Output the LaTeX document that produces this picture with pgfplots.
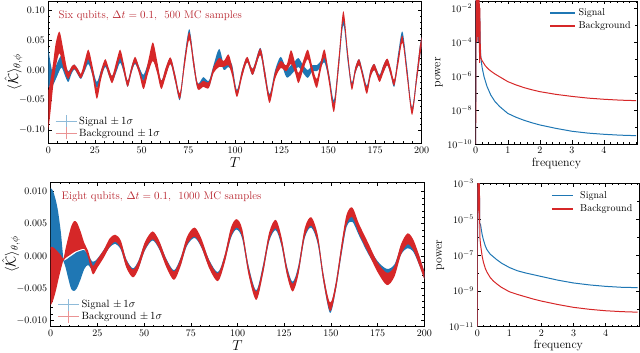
\documentclass[border=0pt]{standalone}
\usepackage{pgfplots}
\pgfplotsset{compat=1.18}
\usepackage{pgfplotstable}
\usepgfplotslibrary{fillbetween}

\definecolor{sig}{HTML}{1F77B4}
\definecolor{bkg}{HTML}{D62728}
\definecolor{siglt}{HTML}{8FBBD9}
\definecolor{bkglt}{HTML}{EA9394}
\definecolor{note}{HTML}{B8262F}

% six qubits: T, lower, upper (mean -/+ 1 sigma)
\pgfplotstableread{
T lo hi
0 -0.030 0.037
1 -0.025 0.015
2.5 -0.025 -0.005
4.5 -0.012 0.010
7 0.004 0.024
9 -0.010 0.008
10.7 -0.020 -0.002
12.5 -0.006 0.005
14 0.001 0.009
16 -0.009 0.000
17.5 -0.015 -0.007
19.5 -0.002 0.008
21.5 0.010 0.022
23.8 -0.010 0.002
26 -0.030 -0.020
28.3 -0.012 0.000
30.5 0.005 0.014
32.3 -0.008 0.002
34.2 -0.020 -0.010
36.5 -0.003 0.008
38.5 0.012 0.024
40.5 -0.005 0.006
42.5 -0.028 -0.018
44.5 -0.005 0.005
46.5 0.010 0.020
48.8 -0.005 0.004
51 -0.018 -0.008
53.5 -0.002 0.012
56 0.018 0.032
58.3 -0.003 0.010
60.5 -0.028 -0.018
63 -0.008 0.004
65.5 0.010 0.020
68 -0.020 -0.008
70.5 -0.050 -0.040
73 0.008 0.022
75.5 0.056 0.068
77.8 0.005 0.020
80 -0.030 -0.022
83 -0.020 -0.012
86 -0.028 -0.018
88.5 -0.003 0.008
91.5 0.018 0.035
94 0.000 0.010
96.5 0.005 0.015
98.5 -0.005 0.008
101 -0.042 -0.033
103.8 -0.010 0.000
106.5 0.013 0.021
109.5 -0.008 0.002
113.5 0.025 0.037
116 -0.015 0.000
118.5 -0.050 -0.040
121.5 -0.010 0.000
124.5 0.010 0.022
127.5 -0.012 0.002
130 -0.008 0.008
132.2 0.000 0.015
134 0.005 0.020
136.5 -0.005 0.008
139 -0.013 0.000
141.5 -0.002 0.008
143.8 -0.002 0.008
146 0.005 0.015
148 0.012 0.025
150.5 -0.020 -0.008
153 -0.062 -0.050
155.5 0.000 0.018
158 0.075 0.088
160.3 0.015 0.030
162.5 -0.030 -0.020
164.5 -0.005 0.005
166.5 0.008 0.018
168.5 -0.012 -0.003
170.6 -0.036 -0.026
172.6 -0.010 0.000
174.5 0.000 0.010
176 -0.008 0.000
177.5 -0.016 -0.008
179.5 -0.003 0.008
181.6 0.008 0.018
183.5 -0.010 0.000
185.3 -0.028 -0.018
187.5 0.015 0.030
189.7 0.052 0.064
192.2 -0.010 0.005
194.8 -0.072 -0.062
197.3 -0.020 -0.005
199 0.020 0.040
200 0.040 0.055
}\topsig

\pgfplotstableread{
T lo hi
0 -0.100 -0.035
1 -0.075 -0.020
2.5 -0.030 0.010
4 0.005 0.045
6 0.028 0.064
8 0.005 0.035
10.5 -0.015 -0.003
12.5 -0.003 0.006
14 0.002 0.009
16 -0.008 0.001
17.5 -0.014 -0.006
19.5 0.000 0.015
21.5 0.018 0.034
23.8 -0.012 0.005
26 -0.048 -0.030
28.3 -0.015 0.000
30.5 0.008 0.018
32.3 -0.008 0.004
34.2 -0.022 -0.010
36.5 0.000 0.015
38.5 0.020 0.034
40.5 -0.005 0.010
42.5 -0.028 -0.018
44.5 -0.005 0.005
46.5 0.012 0.022
48.8 -0.008 0.003
51 -0.032 -0.018
53.5 -0.005 0.015
56 0.015 0.046
58.3 -0.005 0.015
60.5 -0.032 -0.018
63 -0.010 0.005
65.5 0.010 0.021
68 -0.020 -0.008
70.5 -0.048 -0.038
73 0.005 0.020
75.5 0.050 0.063
77.8 0.005 0.020
80 -0.032 -0.022
83 -0.028 -0.018
86 -0.030 -0.020
88.5 -0.005 0.005
91.5 0.005 0.020
94 0.005 0.015
96.5 0.008 0.026
98.5 -0.010 0.005
101 -0.045 -0.035
103.8 -0.012 0.000
106.5 0.013 0.022
109.5 -0.008 0.002
113.5 0.025 0.036
116 -0.015 0.000
118.5 -0.055 -0.042
121.5 -0.015 -0.003
124.5 0.003 0.015
127.5 -0.002 0.008
130 0.010 0.033
132.2 -0.005 0.012
134 -0.022 -0.005
136.5 0.000 0.015
139 0.018 0.034
141.5 -0.010 0.005
143.8 -0.030 -0.015
146 0.000 0.015
148 0.020 0.034
150.5 -0.025 -0.010
153 -0.070 -0.055
155.5 0.000 0.020
158 0.082 0.098
160.3 0.020 0.035
162.5 -0.033 -0.022
164.5 -0.005 0.005
166.5 0.008 0.018
168.5 -0.015 -0.005
170.6 -0.040 -0.028
172.6 -0.012 0.000
174.5 0.000 0.010
176 -0.010 0.000
177.5 -0.020 -0.010
179.5 -0.005 0.008
181.6 0.008 0.019
183.5 -0.010 0.002
185.3 -0.026 -0.016
187.5 0.010 0.025
189.7 0.045 0.057
192.2 -0.015 0.000
194.8 -0.075 -0.063
197.3 -0.020 -0.005
199 0.020 0.040
200 0.040 0.055
}\topbkg

% eight qubits
\pgfplotstableread{
T lo hi
0 0.0010 0.0105
1 0.0009 0.0102
2 0.0008 0.0094
3 0.0006 0.0083
4 0.0003 0.0068
5.5 -0.0002 0.0035
6.8 -0.0008 -0.0004
8 -0.0018 -0.0006
9.5 -0.0036 -0.0003
11 -0.0051 0.0000
12.5 -0.0054 0.0003
14 -0.0050 0.0006
16 -0.0036 0.0008
18 -0.0020 0.0009
20 -0.0014 0.0002
22.5 -0.0022 -0.0009
25 -0.0015 -0.0004
28.5 0.0000 0.0010
31.5 0.0013 0.0024
34.5 0.0019 0.0029
37.5 0.0010 0.0021
40.5 -0.0016 -0.0005
44 -0.0030 -0.0019
47 -0.0018 -0.0007
50.5 0.0009 0.0020
54.5 0.0024 0.0034
58 0.0011 0.0022
62 -0.0016 -0.0005
66 -0.0034 -0.0022
69.5 -0.0014 -0.0003
73 0.0016 0.0027
77 0.0028 0.0040
80.5 0.0014 0.0025
85 -0.0018 -0.0007
89.5 -0.0037 -0.0025
93 -0.0010 0.0000
96.5 0.0028 0.0040
99.5 0.0041 0.0053
102.5 0.0027 0.0038
106 -0.0028 -0.0016
110 -0.0066 -0.0053
113.5 -0.0028 -0.0016
117 0.0023 0.0034
120.5 0.0040 0.0052
123.5 0.0016 0.0027
126.5 -0.0028 -0.0016
129.5 -0.0052 -0.0040
132.5 -0.0028 -0.0016
136 0.0028 0.0040
139.5 0.0044 0.0056
143 0.0018 0.0030
146 -0.0040 -0.0028
149.5 -0.0088 -0.0075
152.5 -0.0055 -0.0043
156 0.0008 0.0022
158.5 0.0046 0.0060
161.5 0.0053 0.0068
165 0.0032 0.0046
170 0.0003 0.0016
175 -0.0020 -0.0008
180 -0.0036 -0.0020
184 -0.0027 -0.0013
187.5 0.0002 0.0014
191 0.0012 0.0026
194 0.0007 0.0020
197 -0.0012 0.0002
200 -0.0035 -0.0024
}\botsig

\pgfplotstableread{
T lo hi
0 -0.0076 0.0014
1 -0.0071 0.0014
2 -0.0062 0.0012
3 -0.0051 0.0009
4 -0.0038 0.0006
5.5 -0.0020 0.0001
6.8 -0.0007 -0.0004
8 -0.0003 0.0012
9.5 0.0000 0.0030
11 0.0003 0.0046
12.5 0.0006 0.0054
14 0.0008 0.0052
16 0.0010 0.0038
18 0.0011 0.0020
20 -0.0002 0.0008
22.5 -0.0028 -0.0015
25 -0.0018 -0.0005
28.5 -0.0002 0.0010
31.5 0.0014 0.0027
34.5 0.0022 0.0033
37.5 0.0012 0.0024
40.5 -0.0018 -0.0006
44 -0.0033 -0.0021
47 -0.0020 -0.0008
50.5 0.0010 0.0022
54.5 0.0026 0.0038
58 0.0012 0.0024
62 -0.0018 -0.0006
66 -0.0037 -0.0024
69.5 -0.0016 -0.0004
73 0.0018 0.0030
77 0.0030 0.0044
80.5 0.0015 0.0028
85 -0.0020 -0.0008
89.5 -0.0039 -0.0027
93 -0.0012 0.0000
96.5 0.0030 0.0044
99.5 0.0044 0.0057
102.5 0.0030 0.0042
106 -0.0030 -0.0018
110 -0.0068 -0.0055
113.5 -0.0030 -0.0018
117 0.0025 0.0037
120.5 0.0043 0.0056
123.5 0.0018 0.0030
126.5 -0.0030 -0.0018
129.5 -0.0055 -0.0043
132.5 -0.0030 -0.0018
136 0.0030 0.0043
139.5 0.0047 0.0060
143 0.0020 0.0032
146 -0.0040 -0.0028
149.5 -0.0085 -0.0072
152.5 -0.0055 -0.0043
156 0.0010 0.0025
158.5 0.0050 0.0065
161.5 0.0060 0.0075
165 0.0035 0.0050
170 0.0005 0.0020
175 -0.0025 -0.0010
180 -0.0045 -0.0026
184 -0.0032 -0.0016
187.5 0.0002 0.0018
191 0.0018 0.0035
194 0.0010 0.0026
197 -0.0012 0.0003
200 -0.0036 -0.0024
}\botbkg

\pgfplotsset{
  panel/.style={
    scale only axis,
    tick align=inside,
    major tick length=3.5pt,
    minor tick length=2pt,
    every tick/.style={black, line width=0.5pt},
    axis line style={line width=0.6pt},
    tick label style={font=\normalsize},
  },
  tpanel/.style={
    panel,
    xmin=0, xmax=200,
    xtick={0,25,...,200},
    minor x tick num=4,
    minor y tick num=4,
    scaled y ticks=false,
    xlabel={$T$},
    xlabel style={font=\Large, yshift=3pt},
    ylabel={$\langle\hat{\mathcal{K}}\rangle_{\theta,\phi}$},
    ylabel style={font=\Large, yshift=-10pt},
    legend style={draw=none, fill=none, font=\fontsize{10.5}{12}\selectfont,
      at={(0.01,0.01)}, anchor=south west, row sep=-1pt},
    legend cell align=left,
  },
  fpanel/.style={
    panel,
    xmin=0, xmax=5.04,
    xtick={0,1,2,3,4},
    minor xtick={0.2,0.4,...,5.0},
    xlabel={frequency},
    ylabel={power},
    xlabel style={font=\large, yshift=3pt},
    ylabel style={font=\large, yshift=-2pt},
  },
  errkey/.style={legend image code/.code={
      \draw[#1, line width=1pt] (0pt,0pt) -- (21pt,0pt);
      \draw[#1, line width=1pt] (10.5pt,-6pt) -- (10.5pt,6pt);}},
}

\begin{document}
\begin{tikzpicture}

% ---------- six qubits, time trace ----------
\begin{axis}[tpanel,
  at={(48.3pt,209.5pt)}, anchor=south west,
  width=373.4pt, height=142.5pt,
  ymin=-0.1225, ymax=0.115,
  ytick={-0.10,-0.05,0,0.05,0.10},
  yticklabel style={/pgf/number format/.cd, fixed, fixed zerofill, precision=2},
]
\addplot[draw=none, name path=sh, smooth, forget plot] table[x=T,y=hi]{\topsig};
\addplot[draw=none, name path=sl, smooth, forget plot] table[x=T,y=lo]{\topsig};
\addplot[sig, forget plot] fill between[of=sh and sl];
\addplot[draw=none, name path=bh, smooth, forget plot] table[x=T,y=hi]{\topbkg};
\addplot[draw=none, name path=bl, smooth, forget plot] table[x=T,y=lo]{\topbkg};
\addplot[bkg, forget plot] fill between[of=bh and bl];
\addlegendimage{errkey=siglt}
\addlegendentry{Signal $\pm\,1\sigma$}
\addlegendimage{errkey=bkglt}
\addlegendentry{Background $\pm\,1\sigma$}
\node[anchor=west, text=note, font=\fontsize{11}{13}\selectfont] at (axis description cs:0.018,0.9)
  {Six qubits, $\Delta t = 0.1$,\ \ 500 MC samples};
\end{axis}

% ---------- six qubits, spectrum ----------
\begin{axis}[ymode=log, fpanel,
  at={(475.7pt,209pt)}, anchor=south west,
  width=161.6pt, height=143pt,
  ymin=1e-10, ymax=0.0258,
  ytick={1e-10,1e-8,1e-6,1e-4,1e-2},
  minor ytick={1e-9,1e-7,1e-5,1e-3},
]
\addplot[sig, line width=1pt] coordinates {
(0.000,1e-10) (0.005,5e-2) (0.015,3e-4) (0.030,5e-2) (0.045,1e-3) (0.060,5e-2)
(0.075,1e-4) (0.090,5e-2) (0.105,1e-4) (0.120,1e-2) (0.140,1e-4) (0.160,1.15e-5)
(0.20,3.16e-6) (0.26,9.12e-7) (0.35,2.51e-7) (0.47,7.59e-8) (0.60,3.16e-8)
(0.75,1.58e-8) (1.00,6.31e-9) (1.25,3.80e-9) (1.50,2.51e-9) (1.75,1.78e-9)
(2.00,1.32e-9) (2.50,8.32e-10) (3.00,5.62e-10) (3.50,4.37e-10) (4.00,3.72e-10)
(4.50,3.31e-10) (5.00,3.09e-10)
};
\addplot[bkg, line width=1pt] coordinates {
(0.000,1e-10) (0.010,5e-2) (0.020,2e-4) (0.030,5e-2) (0.040,1e-4) (0.050,5e-2)
(0.060,1e-3) (0.070,5e-2) (0.080,2e-4) (0.090,5e-2) (0.100,1e-4) (0.110,3e-2)
(0.120,6e-6) (0.130,1e-2) (0.140,1e-4) (0.150,2e-5) (0.160,1.15e-5)
(0.20,7.94e-6) (0.25,5.62e-6) (0.30,3.98e-6) (0.40,2.51e-6) (0.50,1.78e-6)
(0.60,1.32e-6) (0.75,8.91e-7) (1.00,4.68e-7) (1.25,3.02e-7) (1.50,2.09e-7)
(1.75,1.55e-7) (2.00,1.20e-7) (2.50,8.32e-8) (3.00,6.31e-8) (3.50,5.01e-8)
(4.00,4.27e-8) (4.50,3.80e-8) (5.00,3.55e-8)
};
% legend
\draw[sig, line width=1.2pt] (axis description cs:0.46,0.916) -- (axis description cs:0.615,0.916);
\node[anchor=west, inner sep=0pt] at (axis description cs:0.635,0.916) {Signal};
\draw[bkg, line width=1.2pt] (axis description cs:0.46,0.825) -- (axis description cs:0.615,0.825);
\node[anchor=west, inner sep=0pt] at (axis description cs:0.635,0.825) {Background};
\end{axis}

% ---------- eight qubits, time trace ----------
\begin{axis}[tpanel,
  at={(50.7pt,26.3pt)}, anchor=south west,
  width=373.6pt, height=144.4pt,
  ymin=-0.01094, ymax=0.01141,
  ytick={-0.010,-0.005,0,0.005,0.010},
  yticklabel style={/pgf/number format/.cd, fixed, fixed zerofill, precision=3},
]
\addplot[draw=none, name path=sh, smooth, forget plot] table[x=T,y=hi]{\botsig};
\addplot[draw=none, name path=sl, smooth, forget plot] table[x=T,y=lo]{\botsig};
\addplot[sig, forget plot] fill between[of=sh and sl];
\addplot[draw=none, name path=bh, smooth, forget plot] table[x=T,y=hi]{\botbkg};
\addplot[draw=none, name path=bl, smooth, forget plot] table[x=T,y=lo]{\botbkg};
\addplot[bkg, forget plot] fill between[of=bh and bl];
\addlegendimage{errkey=siglt}
\addlegendentry{Signal $\pm\,1\sigma$}
\addlegendimage{errkey=bkglt}
\addlegendentry{Background $\pm\,1\sigma$}
\node[anchor=west, text=note, font=\fontsize{11}{13}\selectfont] at (axis description cs:0.02,0.9)
  {Eight qubits, $\Delta t = 0.1$,\ \ 1000 MC samples};
\end{axis}

% ---------- eight qubits, spectrum ----------
\begin{axis}[ymode=log, fpanel,
  at={(477.3pt,26.3pt)}, anchor=south west,
  width=162pt, height=143.4pt,
  xmax=5.05,
  ymin=1e-11, ymax=1e-3,
  ytick={1e-11,1e-9,1e-7,1e-5,1e-3},
  minor ytick={1e-10,1e-8,1e-6,1e-4},
]
\addplot[sig, line width=1pt] coordinates {
(0.000,1e-11) (0.010,6e-4) (0.020,1e-5) (0.030,1e-2) (0.045,1e-4) (0.060,1e-2)
(0.075,6e-6) (0.10,5.01e-6) (0.15,1.41e-6) (0.19,7.08e-7) (0.25,3.16e-7)
(0.30,2.00e-7) (0.40,1.12e-7) (0.50,7.94e-8) (0.60,5.62e-8) (0.75,3.55e-8)
(1.00,2.00e-8) (1.25,1.32e-8) (1.50,1.00e-8) (1.75,7.94e-9) (2.00,6.31e-9)
(2.50,3.98e-9) (3.00,2.75e-9) (3.50,2.14e-9) (4.00,1.78e-9) (4.50,1.58e-9)
(5.00,1.51e-9)
};
\addplot[bkg, line width=1pt] coordinates {
(0.000,1e-11) (0.010,1e-2) (0.020,1e-5) (0.035,1e-2) (0.050,3e-5) (0.065,1e-3)
(0.080,1e-6) (0.10,3.98e-7) (0.15,8.91e-8) (0.19,3.98e-8) (0.25,1.78e-8)
(0.30,1.12e-8) (0.40,5.62e-9) (0.50,3.55e-9) (0.60,2.51e-9) (0.75,1.58e-9)
(1.00,8.91e-10) (1.25,6.31e-10) (1.50,4.68e-10) (1.75,3.47e-10) (2.00,2.69e-10)
(2.50,1.74e-10) (3.00,1.20e-10) (3.50,9.33e-11) (4.00,7.76e-11) (4.50,6.92e-11)
(5.00,6.46e-11)
};
% legend
\draw[sig, line width=1.2pt] (axis description cs:0.46,0.913) -- (axis description cs:0.59,0.913);
\node[anchor=west, inner sep=0pt] at (axis description cs:0.634,0.913) {Signal};
\draw[bkg, line width=1.2pt] (axis description cs:0.46,0.821) -- (axis description cs:0.59,0.821);
\node[anchor=west, inner sep=0pt] at (axis description cs:0.634,0.821) {Background};
\end{axis}

\pgfresetboundingbox
\path[use as bounding box] (0pt,0pt) rectangle (640pt,353pt);
\end{tikzpicture}
\end{document}
